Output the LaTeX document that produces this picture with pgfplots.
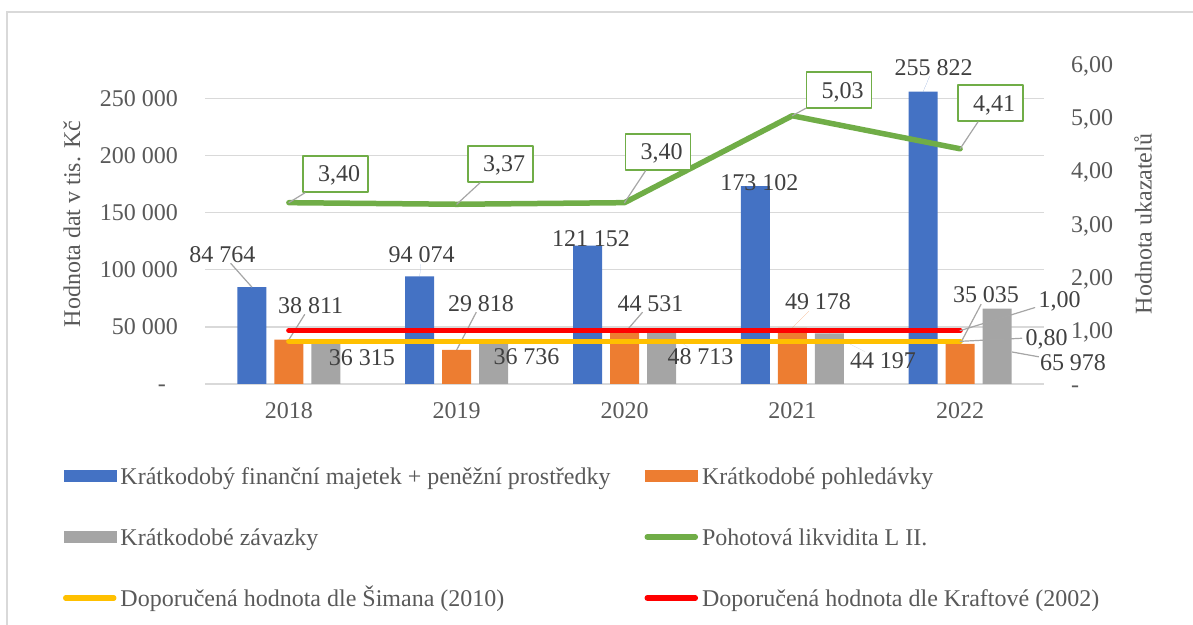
\documentclass[border=0pt]{standalone}
\usepackage{pgfplots}
\pgfplotsset{compat=1.18}
\usepackage{pgfplotstable}
\usepackage{fontspec}
\setmainfont{Liberation Serif}
\definecolor{cblue}{HTML}{4472C4}
\definecolor{corange}{HTML}{ED7D31}
\definecolor{cgray}{HTML}{A5A5A5}
\definecolor{cgreen}{HTML}{70AD47}
\definecolor{cyellow}{HTML}{FFC000}
\definecolor{cred}{HTML}{FF0000}
\definecolor{ctick}{HTML}{595959}
\definecolor{clab}{HTML}{404040}
\definecolor{cgrid}{HTML}{D9D9D9}
\definecolor{cleader}{HTML}{A6A6A6}
\newcommand{\bigf}{\fontsize{24}{28}\selectfont}

% dx, dy: label centre relative to the category point; sx, sy: leader start
\pgfplotstableread{
x v dx dy lo sx sy
0 84764 -66.5 33.1 1 -37 0
1 94074 -35 21.5 0 -37 0
2 121152 -33.5 7.5 0 -37 0
3 173102 -33 3.2 0 -37 0
4 255822 -26.5 24.6 0 -37 0
}\tblue
\pgfplotstableread{
x v dx dy lo sx sy
0 38811 21.7 34.6 1 0 0
1 29818 24.3 46.9 1 0 0
2 44531 26 30.1 1 0 0
3 49178 25.7 25.8 0 0 0
4 35035 25.9 49 1 0 0
}\torange
\pgfplotstableread{
x v dx dy lo sx sy
0 36315 73 -15.5 0 37 0
1 36736 69.8 -14 0 37 0
2 48713 76 -27.7 0 37 0
3 44197 90.7 -27.5 0 37 0
4 65978 112.9 -54.4 1 52 -43.4
}\tgray
\pgfplotstableread{
x v dx dy lo sx sy
0 3.40 46.6 28.7 1 0 0
1 3.37 43.8 40.3 1 0 0
2 3.40 33.5 50.7 1 0 0
3 5.03 46.7 25.7 1 0 0
4 4.41 30.4 45.8 1 0 0
}\tgreen
\pgfplotstableread{
x v dx dy lo sx sy lab
0 0.8 0 0 0 0 0 {}
1 0.8 0 0 0 0 0 {}
2 0.8 0 0 0 0 0 {}
3 0.8 0 0 0 0 0 {}
4 0.8 86.4 4.3 1 0 0 {0,80}
}\tyellow
\pgfplotstableread{
x v dx dy lo sx sy lab
0 1 0 0 0 0 0 {}
1 1 0 0 0 0 0 {}
2 1 0 0 0 0 0 {}
3 1 0 0 0 0 0 {}
4 1 99.4 30.7 1 0 0 {1,00}
}\tred

\tikzset{
  lab/.style={font=\bigf, text=clab, inner sep=1pt, text height=16pt, text depth=0pt, anchor=center,
    xshift=\dx pt, yshift=\dy pt,
    append after command={(\tikzlastnode.center) ++({\sx pt-(\dx pt)},{\sy pt-(\dy pt)}) edge[draw=cleader, line width=1.2pt, draw opacity=\lo] (\tikzlastnode)}},
}
\pgfplotsset{
  /pgf/number format/assume math mode=true,
  labdeps/.style={
    visualization depends on={\thisrow{dx}\as\dx},
    visualization depends on={\thisrow{dy}\as\dy},
    visualization depends on={\thisrow{lo}\as\lo},
    visualization depends on={\thisrow{sx}\as\sx},
    visualization depends on={\thisrow{sy}\as\sy},
  },
  barnum/.style={nodes near coords={\pgfmathprintnumber[fixed,precision=0,1000 sep={\ }]{\pgfplotspointmeta}},
    nodes near coords style={lab}},
}

\begin{document}
\begin{tikzpicture}[x=1pt,y=1pt]
\path[use as bounding box] (0,0) rectangle (1193,624);
\draw[cgrid, line width=1.5pt] (7,-20) -- (7,612) -- (1220,612);
\begin{axis}[at={(205pt,240pt)}, anchor=south west, scale only axis, width=839pt, height=320pt,
  xmin=-0.5, xmax=4.5, ymin=0, ymax=280000, clip=false,
  xtick={0,1,2,3,4}, xticklabels={2018,2019,2020,2021,2022},
  ytick={0,50000,100000,150000,200000,250000},
  yticklabels={-\kern12pt\relax,50 000,100 000,150 000,200 000,250 000},
  scaled y ticks=false,
  axis line style={draw=none}, major tick length=0pt,
  ymajorgrids, grid style={cgrid, line width=1.5pt},
  tick label style={font=\bigf, text=ctick, inner sep=0pt, text height=16pt, text depth=0pt},
  xticklabel style={anchor=center, yshift=-27pt},
  yticklabel style={anchor=east, xshift=-27pt},
  ylabel={Hodnota dat v tis. Kč},
  ylabel style={font=\bigf, text=ctick, at={(axis description cs:-0.1585,0.5)}, anchor=center},
]
\addplot[ybar, bar width=29pt, bar shift=-37pt, fill=cblue, draw=none, labdeps, barnum] table[x=x,y=v] {\tblue};
\addplot[ybar, bar width=29pt, bar shift=0pt, fill=corange, draw=none, labdeps, barnum] table[x=x,y=v] {\torange};
\addplot[ybar, bar width=29pt, bar shift=37pt, fill=cgray, draw=none, labdeps, barnum] table[x=x,y=v] {\tgray};
\end{axis}

\begin{axis}[at={(205pt,240pt)}, anchor=south west, scale only axis, width=839pt, height=320pt,
  xmin=-0.5, xmax=4.5, ymin=0, ymax=6, clip=false,
  hide x axis, axis y line*=right, axis line style={draw=none}, major tick length=0pt,
  ytick={0,1,2,3,4,5,6},
  yticklabels={-,{1,00},{2,00},{3,00},{4,00},{5,00},{6,00}},
  tick label style={font=\bigf, text=ctick, inner sep=0pt, text height=16pt, text depth=0pt},
  yticklabel style={anchor=west, xshift=27pt},
  ylabel={Hodnota ukazatelů},
  ylabel style={font=\bigf, text=ctick, at={(axis description cs:1.118,0.5)}, anchor=center},
  legend columns=2,
  legend style={draw=none, fill=none, inner sep=0pt, outer sep=0pt,
    at={(axis description cs:-0.16925,-0.259375)}, anchor=north west,
    font=\bigf, text=ctick,
    nodes={inner sep=0pt, text height=17pt, text depth=5pt, anchor=base west},
    /tikz/every odd column/.append style={column sep=4pt},
    /tikz/every even column/.append style={column sep=34pt},
    row sep=39pt},
]
\addlegendimage{legend image code/.code={\fill[cblue] (0pt,2.5pt) rectangle (52pt,13.5pt);}}
\addlegendentry{Krátkodobý finanční majetek + peněžní prostředky}
\addlegendimage{legend image code/.code={\fill[corange] (0pt,2.5pt) rectangle (52pt,13.5pt);}}
\addlegendentry{Krátkodobé pohledávky}
\addlegendimage{legend image code/.code={\fill[cgray] (0pt,2.5pt) rectangle (52pt,13.5pt);}}
\addlegendentry{Krátkodobé závazky}

\addplot[cgreen, line width=5.5pt, line cap=round, line join=round, mark=none, labdeps,
  legend image code/.code={\draw[cgreen, line width=5.5pt, line cap=round] (2pt,8pt) -- (50pt,8pt);},
  nodes near coords={\pgfmathprintnumber[fixed,fixed zerofill,precision=2,use comma]{\pgfplotspointmeta}},
  nodes near coords style={lab, draw=cgreen, line width=1.5pt, fill=white, minimum height=36pt,
    text width=49pt, align=right, inner xsep=8pt, inner ysep=0pt}]
  table[x=x,y=v] {\tgreen};
\addlegendentry{Pohotová likvidita L II.}

\addplot[cyellow, line width=5.5pt, line cap=round, mark=none, labdeps,
  legend image code/.code={\draw[cyellow, line width=5.5pt, line cap=round] (2pt,8pt) -- (50pt,8pt);},
  point meta=explicit symbolic, nodes near coords, nodes near coords style={lab}]
  table[x=x,y=v,meta=lab] {\tyellow};
\addlegendentry{Doporučená hodnota dle Šimana (2010)}

\addplot[cred, line width=5.5pt, line cap=round, mark=none, labdeps,
  legend image code/.code={\draw[cred, line width=5.5pt, line cap=round] (2pt,8pt) -- (50pt,8pt);},
  point meta=explicit symbolic, nodes near coords, nodes near coords style={lab}]
  table[x=x,y=v,meta=lab] {\tred};
\addlegendentry{Doporučená hodnota dle Kraftové (2002)}
\end{axis}
\end{tikzpicture}
\end{document}
